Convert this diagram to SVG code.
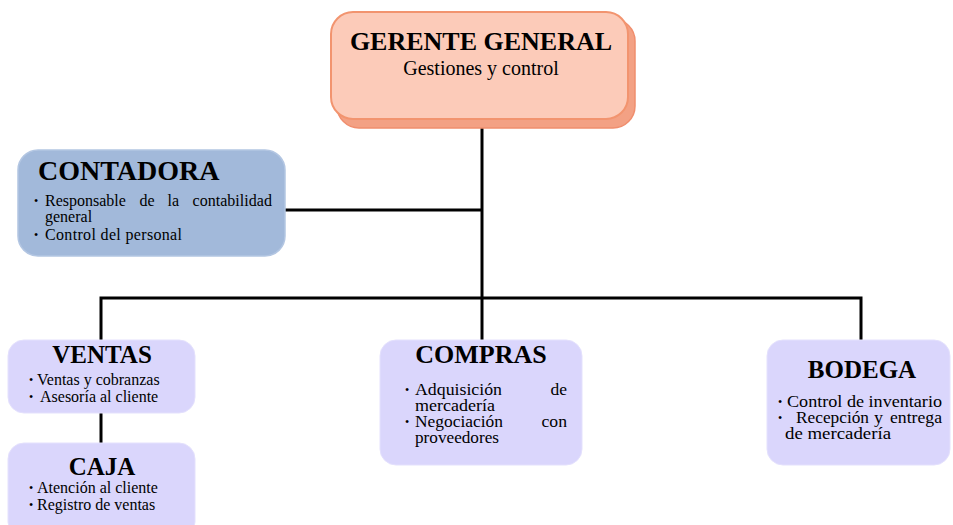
<svg xmlns="http://www.w3.org/2000/svg" width="953" height="525" viewBox="0 0 953 525">
<style>
.h{font-family:"Liberation Serif","Times New Roman",serif;font-weight:bold;fill:#000}
.t{font-family:"Liberation Serif","Times New Roman",serif;font-size:16px;fill:#000}
.bl{font-size:12px}
.lav{fill:#DAD6FC;stroke:#E4E1FD;stroke-width:1}
.conn{fill:none;stroke:#000;stroke-width:3;stroke-linejoin:miter;stroke-linecap:butt}
</style>
<rect width="953" height="525" fill="#fff"/>
<g id="connectors" class="conn">
<path d="M482 125 V340"/>
<path d="M285 210 H482"/>
<path d="M101 340 V298 H861 V340"/>
<path d="M101 413 V443"/>
</g>
<g id="gerente">
<rect x="337" y="19" width="298" height="109" rx="22" fill="#F3A184" stroke="#F08E6E" stroke-width="1.5"/>
<rect x="331" y="12" width="297" height="107" rx="22" fill="#FCCBB9" stroke="#F2946F" stroke-width="2"/>
<text class="h" x="481" y="50" font-size="26" text-anchor="middle">GERENTE GENERAL</text>
<text class="t" x="481" y="75" text-anchor="middle" style="font-size:20px">Gestiones y control</text>
</g>
<g id="contadora">
<rect x="18" y="150" width="267" height="106" rx="20" fill="#A2B9DA" stroke="#B3C6E2" stroke-width="1.5"/>
<text class="h" x="38" y="180" font-size="28">CONTADORA</text>
<text class="t"><tspan class="bl" x="34" y="205">•</tspan><tspan x="45" y="205.5">Responsable</tspan><tspan x="139.5" y="205.5">de</tspan><tspan x="167.5" y="205.5">la</tspan><tspan x="192.5" y="205.5" textLength="79.5">contabilidad</tspan><tspan x="45" y="222">general</tspan><tspan class="bl" x="34" y="239">•</tspan><tspan x="45" y="240" textLength="137">Control del personal</tspan></text>
</g>
<g id="ventas">
<rect class="lav" x="8" y="340" width="187" height="73" rx="16"/>
<text class="h" x="102" y="363" font-size="25" text-anchor="middle">VENTAS</text>
<text class="t"><tspan class="bl" x="29" y="384">•</tspan><tspan x="37" y="385">Ventas y cobranzas</tspan><tspan class="bl" x="29" y="401">•</tspan><tspan x="40" y="402">Asesoría al cliente</tspan></text>
</g>
<g id="caja">
<rect class="lav" x="8" y="443" width="187" height="95" rx="16"/>
<text class="h" x="102" y="475" font-size="25" text-anchor="middle">CAJA</text>
<text class="t"><tspan class="bl" x="29" y="492">•</tspan><tspan x="37" y="493">Atención al cliente</tspan><tspan class="bl" x="29" y="509">•</tspan><tspan x="37" y="510">Registro de ventas</tspan></text>
</g>
<g id="compras">
<rect class="lav" x="380" y="340" width="202" height="125" rx="16"/>
<text class="h" x="481" y="363" font-size="26" text-anchor="middle">COMPRAS</text>
<text class="t"><tspan class="bl" x="405" y="394">•</tspan><tspan x="415" y="395" textLength="87" lengthAdjust="spacingAndGlyphs">Adquisición</tspan><tspan x="550.5" y="395" textLength="16.5" lengthAdjust="spacingAndGlyphs">de</tspan><tspan x="415" y="411" textLength="80" lengthAdjust="spacingAndGlyphs">mercadería</tspan><tspan class="bl" x="405" y="426">•</tspan><tspan x="415" y="427" textLength="88" lengthAdjust="spacingAndGlyphs">Negociación</tspan><tspan x="541.5" y="427" textLength="25.5" lengthAdjust="spacingAndGlyphs">con</tspan><tspan x="415" y="443" textLength="84" lengthAdjust="spacingAndGlyphs">proveedores</tspan></text>
</g>
<g id="bodega">
<rect class="lav" x="767" y="340" width="183" height="125" rx="16"/>
<text class="h" x="862" y="378" font-size="25" text-anchor="middle">BODEGA</text>
<text class="t"><tspan class="bl" x="778" y="406">•</tspan><tspan x="787" y="407" textLength="155" lengthAdjust="spacingAndGlyphs">Control de inventario</tspan><tspan class="bl" x="778" y="422">•</tspan><tspan x="796" y="423" textLength="73" lengthAdjust="spacingAndGlyphs">Recepción</tspan><tspan x="874" y="423" textLength="9" lengthAdjust="spacingAndGlyphs">y</tspan><tspan x="890" y="423" textLength="52" lengthAdjust="spacingAndGlyphs">entrega</tspan><tspan x="785" y="439" textLength="106" lengthAdjust="spacingAndGlyphs">de mercadería</tspan></text>
</g>
</svg>
